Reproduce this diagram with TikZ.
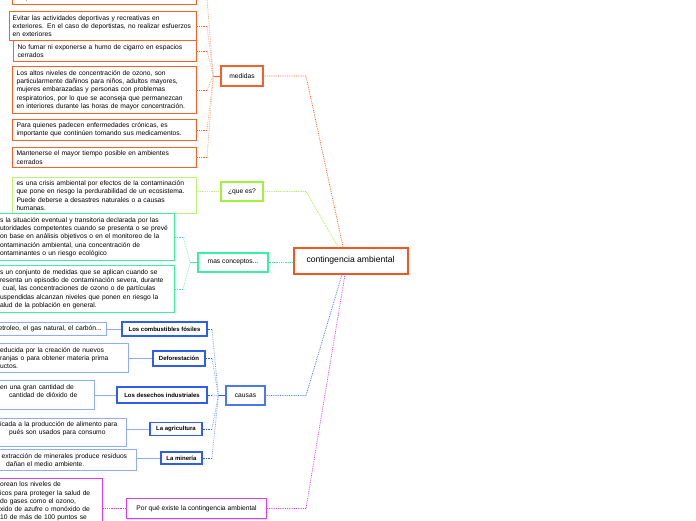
\documentclass[tikz,border=0pt]{standalone}
\usepackage{fontspec}
\setmainfont{Liberation Sans}
\usepackage{tikz}
\usetikzlibrary{
    positioning,
    calc,
    shadows
}

\definecolor{medcol}{HTML}{F4622A}
\definecolor{hubcol}{HTML}{F25520}
\definecolor{quecol}{HTML}{A2F03C}
\definecolor{quelight}{HTML}{BDF36E}
\definecolor{mascol}{HTML}{3CEFA2}
\definecolor{causcol}{HTML}{4A78F2}
\definecolor{causdark}{HTML}{2F5DEE}
\definecolor{causlight}{HTML}{92ABF6}
\definecolor{porcol}{HTML}{DE3CF0}

\begin{document}
\begin{tikzpicture}[
            x=1pt, y=-1pt,
            hubbox/.style={draw=hubcol, line width=2pt, fill=white, inner sep=0pt, minimum width=114pt, minimum height=26pt, font=\fontsize{8.6}{10}\selectfont},
            leaf/.style={draw, line width=0.8pt, fill=white, align=left, anchor=east, inner xsep=4pt, inner ysep=3.5pt, font=\fontsize{6.7}{8.3}\selectfont},
            topic/.style={draw, line width=1.3pt, fill=white, inner sep=0pt, font=\fontsize{6.7}{8}\selectfont, drop shadow={shadow xshift=0.6pt, shadow yshift=-1pt, fill=black!25}},
            cause/.style={draw=causdark, line width=1.1pt, fill=white, inner sep=0pt, font=\bfseries\fontsize{6}{7}\selectfont},
            link/.style={densely dotted, line width=0.8pt},
            stub/.style={line width=0.9pt},
        ]
            \useasboundingbox[fill=white] (0,0) rectangle (696,520);

            % ====== Main branches ======
            \node[topic, draw=medcol, minimum width=42pt, minimum height=20pt] (med) at (242,76) {medidas};
            \node[topic, draw=quecol, minimum width=42pt, minimum height=19pt] (que) at (242,191.5) {¿que es?};
            \node[topic, draw=mascol, minimum width=70pt, minimum height=19pt] (mas) at (233,262.5) {mas conceptos...};
            \node[topic, draw=causcol, minimum width=39pt, minimum height=19pt] (caus) at (245.5,395.5) {causas};
            \node[topic, draw=porcol, minimum width=140pt, minimum height=20pt] (porq) at (196.5,508.5) {Por qué existe la contingencia ambiental};

            % ====== medidas ======
            \node[leaf, draw=medcol, text width=176pt] (m1) at (197,-1.5) {mayores.};
            \node[leaf, draw=medcol, inner xsep=3pt, text width=181pt] (m2) at (197,26)
                {Evitar las actividades deportivas y recreativas en\\
                 exteriores. En el caso de deportistas, no realizar esfuerzos\\
                 en exteriores};
            \node[leaf, draw=medcol, text width=175pt] (m3) at (197,51)
                {No fumar ni exponerse a humo de cigarro en espacios\\
                 cerrados};
            \node[leaf, draw=medcol, text width=176pt] (m4) at (197,90)
                {Los altos niveles de concentración de ozono, son\\
                 particularmente dañinos para niños, adultos mayores,\\
                 mujeres embarazadas y personas con problemas\\
                 respiratorios, por lo que se aconseja que permanezcan\\
                 en interiores durante las horas de mayor concentración.};
            \node[leaf, draw=medcol, text width=176pt] (m5) at (197,130)
                {Para quienes padecen enfermedades crónicas, es\\
                 importante que continúen tomando sus medicamentos.};
            \node[leaf, draw=medcol, text width=176pt] (m6) at (197,157.5)
                {Mantenerse el mayor tiempo posible en ambientes\\
                 cerrados};

            % ====== que es ======
            \node[leaf, draw=quelight, line width=1pt, text width=176pt] (q1) at (197,195.5)
                {es una crisis ambiental por efectos de la contaminación\\
                 que pone en riesgo la perdurabilidad de un ecosistema.\\
                 Puede deberse a desastres naturales o a causas\\
                 humanas.};

            % ====== mas conceptos ======
            \node[leaf, draw=mascol, line width=1pt, text width=170.5pt] (c1) at (175,237)
                {s la situación eventual y transitoria declarada por las\\
                 utoridades competentes cuando se presenta o se prevé\\
                 on base en análisis objetivos o en el monitoreo de la\\
                 ontaminación ambiental, una concentración de\\
                 ontaminantes o un riesgo ecológico};
            \node[leaf, draw=mascol, line width=1pt, text width=170.5pt] (c2) at (175,289)
                {s un conjunto de medidas que se aplican cuando se\\
                 resenta un episodio de contaminación severa, durante\\
                 \hspace*{2.5pt}cual, las concentraciones de ozono o de partículas\\
                 uspendidas alcanzan niveles que ponen en riesgo la\\
                 alud de la población en general.};

            % ====== causas ======
            \node[cause, minimum width=85pt, minimum height=14pt] (fos) at (164.5,329) {Los combustibles fósiles};
            \node[cause, minimum width=52pt, minimum height=15pt] (def) at (179,358.5) {Deforestación};
            \node[cause, minimum width=90pt, minimum height=16pt] (des) at (162,395) {Los desechos industriales};
            \node[cause, minimum width=52pt, minimum height=13pt] (agr) at (176,429) {La agricultura};
            \node[cause, minimum width=41pt, minimum height=12pt] (min) at (181.5,458) {La minería};

            \node[leaf, draw=causlight, inner xsep=3pt, text width=105pt] (b1) at (107,329)
                {etroleo, el gas natural, el carbón...};
            \node[leaf, draw=causlight, text width=124.5pt] (b2) at (129,358)
                {educida por la creación de nuevos\\
                 ranjas o para obtener materia prima\\
                 uctos.};
            \node[leaf, draw=causlight, text width=90.5pt] (b3) at (95,395)
                {en una gran cantidad de\\
                 \hspace*{9pt}cantidad de dióxido de\\
                 \mbox{}};
            \node[leaf, draw=causlight, text width=122.5pt] (b4) at (127,432.5)
                {icada a la producción de alimento para\\
                 \hspace*{9pt}pués son usados para consumo\\
                 \mbox{}};
            \node[leaf, draw=causlight, text width=132.5pt] (b5) at (137,460)
                {\hspace*{1.5pt}extracción de minerales produce residuos\\
                 \hspace*{6pt}dañan el medio ambiente.};

            % ====== Por qué existe ======
            \node[leaf, draw=porcol, anchor=north east, text width=98.5pt] (p1) at (103,478)
                {orean los niveles de\\
                 icos para proteger la salud de\\
                 do gases como el ozono,\\
                 xido de azufre o monóxido de\\
                 10 de más de 100 puntos se};

            % ====== Central topic ======
            \node[hubbox, anchor=center] (cont) at (350.5,260.5) {contingencia ambiental};

            % ====== Connectors to the centre ======
            \coordinate (bend) at (306,0);
            \draw[link, medcol] (med.east) -- (bend |- med.east) -- ([xshift=-7.5pt]cont.north);
            \draw[link, quecol] (que.east) -- (bend |- que.east) -- ([xshift=-12.5pt]cont.north);
            \draw[link, mascol] (cont.west |- mas.east) -- (mas.east);
            \draw[link, causcol] (caus.east) -- (bend |- caus.east) -- ([xshift=-8.5pt]cont.south);
            \draw[link, porcol] (porq.east) -- (bend |- porq.east) -- ([xshift=-5.5pt]cont.south);

            % ====== Fans to the leaves ======
            \draw[stub, medcol] (med.west) -- ++(-7,0) coordinate (medfan);
            \coordinate (medx) at (207,0);
            \foreach \leaf in {m1,m2,m3,m4,m5,m6}{
                \draw[link, medcol!55] (medfan) -- (medx |- \leaf.east);
                \draw[link, medcol] (medx |- \leaf.east) -- (\leaf.east);
            }

            \draw[link, quelight] (que.west) -- (que.west -| q1.east);

            \draw[stub, mascol] (mas.west) -- ++(-7,0) coordinate (masfan);
            \coordinate (masx) at (183,0);
            \foreach \leaf in {c1,c2}{
                \draw[link, mascol!70] (masfan) -- (masx |- \leaf.east);
                \draw[link, mascol] (masx |- \leaf.east) -- (\leaf.east);
            }

            \draw[stub, causdark] (caus.west) -- ++(-7,0) coordinate (causfan);
            \coordinate (causx) at (212,0);
            \foreach \leaf in {fos,def,des,agr,min}{
                \draw[link, causcol!70] (causfan) -- (causx |- \leaf.east);
                \draw[link, causdark] (causx |- \leaf.east) -- (\leaf.east);
            }
            \foreach \src/\dst in {b1/fos, b2/def, b3/des, b4/agr, b5/min}
                \draw[causlight, line width=0.8pt] (\dst.west -| \src.east) -- (\dst.west);

            \draw[link, porcol] (porq.west) -- (porq.west -| p1.east);
        \end{tikzpicture}
\end{document}
